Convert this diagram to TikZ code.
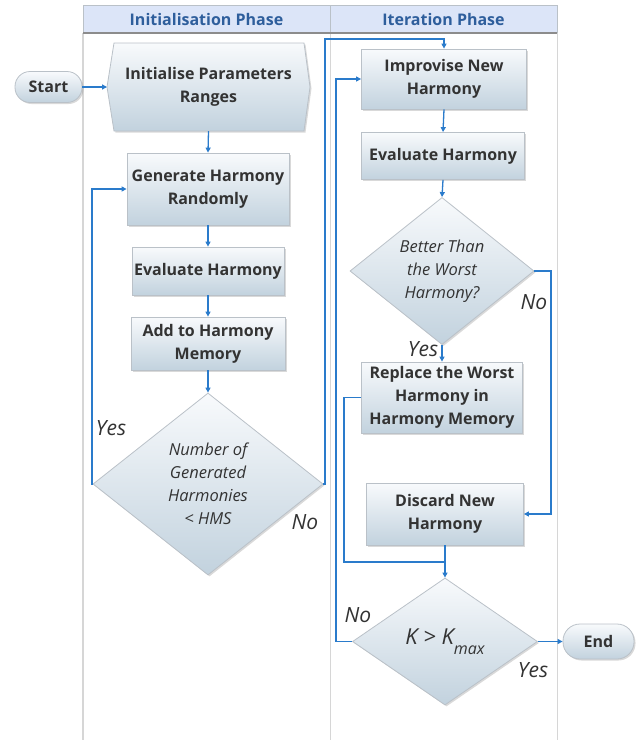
\documentclass[tikz,border=0pt]{standalone}
\usepackage{fontspec}
\setmainfont{Open Sans}
\usetikzlibrary{shapes.geometric,shadows,arrows.meta}
\definecolor{lnblue}{HTML}{2A7BCB}
\definecolor{boxtop}{HTML}{F8FAFC}
\definecolor{boxbot}{HTML}{C2D2DE}
\definecolor{boxedge}{HTML}{BAC1C8}
\definecolor{txt}{HTML}{333333}
\definecolor{hdrfill}{HTML}{DCE5F8}
\definecolor{hdrtxt}{HTML}{2E5E9C}
\definecolor{lane}{HTML}{D6D6D6}
\tikzset{
  shade3d/.style={draw=boxedge, line width=0.8pt, top color=boxtop, bottom color=boxbot,
    drop shadow={shadow xshift=1.5pt, shadow yshift=-1.5pt, opacity=0.3}},
  procbox/.style={rectangle, shade3d, font=\bfseries\fontsize{16}{23}\selectfont,
    text=txt, align=center, inner sep=0pt},
  decision/.style={diamond, shade3d, font=\itshape\fontsize{16.5}{23}\selectfont,
    text=txt, align=center, inner sep=0pt},
  pill/.style={rectangle, rounded corners=15pt, shade3d, font=\bfseries\fontsize{16}{18}\selectfont,
    text=txt, inner sep=0pt},
  arr/.style={draw=lnblue, line width=1.3pt, -{Triangle[length=5pt,width=5pt]}},
  conn/.style={draw=lnblue, line width=1.3pt},
  lbl/.style={font=\itshape\fontsize{21}{24}\selectfont, text=txt, inner sep=0pt},
  hdr/.style={font=\bfseries\fontsize{16}{18}\selectfont, text=hdrtxt, inner sep=0pt}
}
\begin{document}
\begin{tikzpicture}[x=1pt,y=-1pt]
\useasboundingbox (0,0) rectangle (640,740);
% lanes
\draw[lane, line width=2pt] (83,33) -- (83,740);
\draw[lane, line width=1pt] (330,33) -- (330,740);
\draw[lane, line width=1pt] (557,33) -- (557,740);
\fill[hdrfill] (83,5) rectangle (557,33);
\draw[color=boxedge, line width=0.8pt] (83,33) -- (83,5) -- (557,5) -- (557,33);
\draw[color=boxedge, line width=0.8pt] (330,5) -- (330,33);
\draw[color=black!45, line width=1.3pt] (83,33) -- (557,33);
\node[hdr] (h1) at (206.5,19) {Initialisation Phase};
\node[hdr] (h2) at (443.5,19) {Iteration Phase};

% hexagon
\path[shade3d] (114,43) -- (304,43) -- (310,87) -- (304,131) -- (114,131) -- (107,87) -- cycle;
\node[font=\bfseries\fontsize{16}{23}\selectfont, text=txt, align=center, inner sep=0pt,
  minimum width=203, minimum height=88] (init) at (208.5,87) {Initialise Parameters\\Ranges};
\coordinate (initW) at (107,87);

\node[pill, minimum width=67, minimum height=31] (start) at (48.5,87) {Start};
\node[procbox, minimum width=162, minimum height=72] (gen) at (208,189) {Generate Harmony\\Randomly};
\node[procbox, minimum width=152, minimum height=48] (eval1) at (208,271) {Evaluate Harmony};
\node[procbox, minimum width=154, minimum height=53] (add) at (208,343.5) {Add to Harmony\\Memory};
\node[decision, minimum width=230, minimum height=182] (dec1) at (208,484) {Number of\\Generated\\Harmonies\\< HMS};

\node[procbox, minimum width=165, minimum height=60] (impr) at (444,79) {Improvise New\\Harmony};
\node[procbox, minimum width=163, minimum height=47] (eval2) at (443,156) {Evaluate Harmony};
\node[decision, minimum width=184, minimum height=138] (dec2) at (442,271) {Better Than\\the Worst\\Harmony?};
\node[procbox, minimum width=161, minimum height=71] (repl) at (442,397.5) {Replace the Worst\\Harmony in\\Harmony Memory};
\node[procbox, minimum width=157, minimum height=62] (disc) at (445,514) {Discard New\\Harmony};
\node[decision, minimum width=185, minimum height=127] (dec3) at (445,641.5)
  {{\fontsize{22}{24}\selectfont K > K}\raisebox{-10pt}{\fontsize{16}{18}\selectfont max}};
\node[pill, minimum width=71, minimum height=35, rounded corners=17pt] (end) at (598.5,641.5) {End};

% connectors
\draw[arr] (start.east) -- (initW);
\draw[arr] (init.south) -- (gen.north);
\draw[arr] (gen.south) -- (eval1.north);
\draw[arr] (eval1.south) -- (add.north);
\draw[arr] (add.south) -- (dec1.north);
\coordinate (lx) at (92,0);
\draw[arr] (dec1.west) -- (lx |- dec1.west) |- (gen.west);
\coordinate (topturn) at (325,39);
\draw[arr] (dec1.east) -| (topturn) -| (impr.north);
\draw[arr] (impr.south) -- (eval2.north);
\draw[arr] (eval2.south) -- (dec2.north);
\draw[arr] (dec2.south) -- (repl.north);
\coordinate (rx) at (551,0);
\draw[arr] (dec2.east) -- (rx |- dec2.east) |- (disc.east);
\coordinate (merge) at (445,562);
\coordinate (mx) at (344,562);
\draw[conn] (disc.south) -- (merge);
\draw[arr] (repl.west) -| (mx) -- (merge) -- (dec3.north);
\coordinate (noturn) at (336,79);
\draw[arr] (dec3.west) -| (noturn) -- (impr.west);
\draw[arr] (dec3.east) -- (end.west);

% labels
\node[lbl] (y1) at (111,428) {Yes};
\node[lbl] (n1) at (305,522) {No};
\node[lbl] (n2) at (534,302) {No};
\node[lbl] (y2) at (423,349) {Yes};
\node[lbl] (n3) at (358,615) {No};
\node[lbl] (y3) at (533,670) {Yes};
\end{tikzpicture}
\end{document}
